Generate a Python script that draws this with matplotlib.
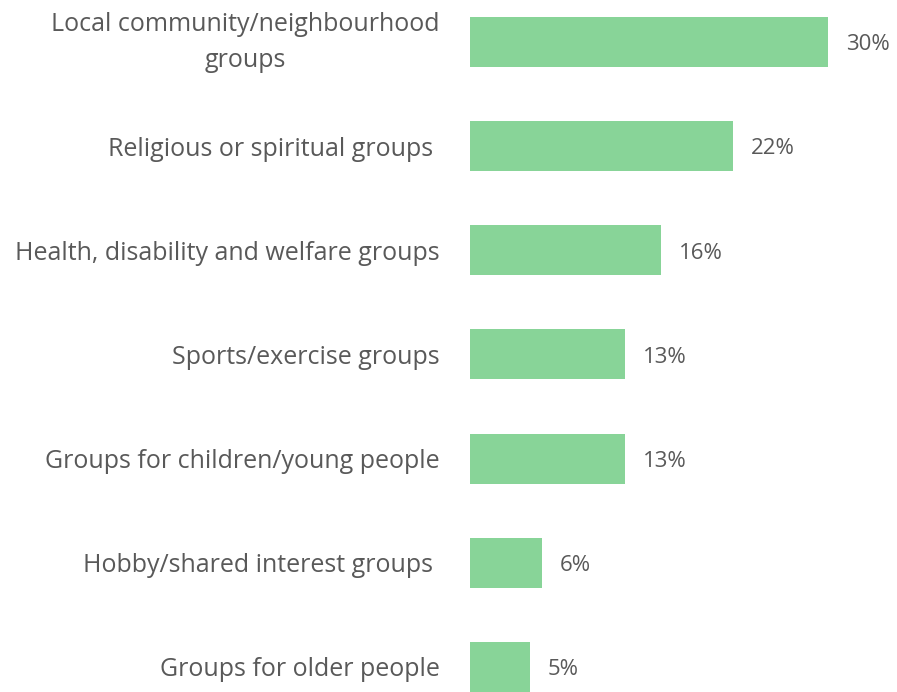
import matplotlib
matplotlib.use("Agg")
import matplotlib.pyplot as plt
from matplotlib.transforms import ScaledTranslation

categories = [
    "Local community/neighbourhood\ngroups",
    "Religious or spiritual groups ",
    "Health, disability and welfare groups",
    "Sports/exercise groups",
    "Groups for children/young people",
    "Hobby/shared interest groups ",
    "Groups for older people",
]
values = [30, 22, 16, 13, 13, 6, 5]
value_labels = ["30%", "22%", "16%", "13%", "13%", "6%", "5%"]

bar_color = "#88d498"
text_color = "#595959"
font = "Open Sans"

fig = plt.figure(figsize=(8.97, 6.92), dpi=100)
ax = fig.add_axes([470 / 897, 0, 358 / 897, 675 / 692])

y = list(range(len(categories)))
ax.barh(y, values, height=0.48, color=bar_color)
ax.set_xlim(0, 30)
ax.set_ylim(len(categories) - 1 + 0.24, -0.24)

for yi, v, lab in zip(y, values, value_labels):
    ax.annotate(lab, (v, yi), xytext=(13, -2), textcoords="offset points",
                ha="left", va="center", fontsize=16, color=text_color,
                family=font)

ax.set_yticks(y)
ax.set_yticklabels(categories, fontsize=18, color=text_color, family=font,
                   ha="right", multialignment="center", linespacing=1.6)
ax.tick_params(axis="y", length=0, pad=22)

# lift the wrapped two-line label slightly
first = ax.get_yticklabels()[0]
first.set_transform(first.get_transform() + ScaledTranslation(0, 6 / 72, fig.dpi_scale_trans))

ax.set_xticks([])
for s in ax.spines.values():
    s.set_visible(False)

fig.savefig("out.png", dpi=100)
